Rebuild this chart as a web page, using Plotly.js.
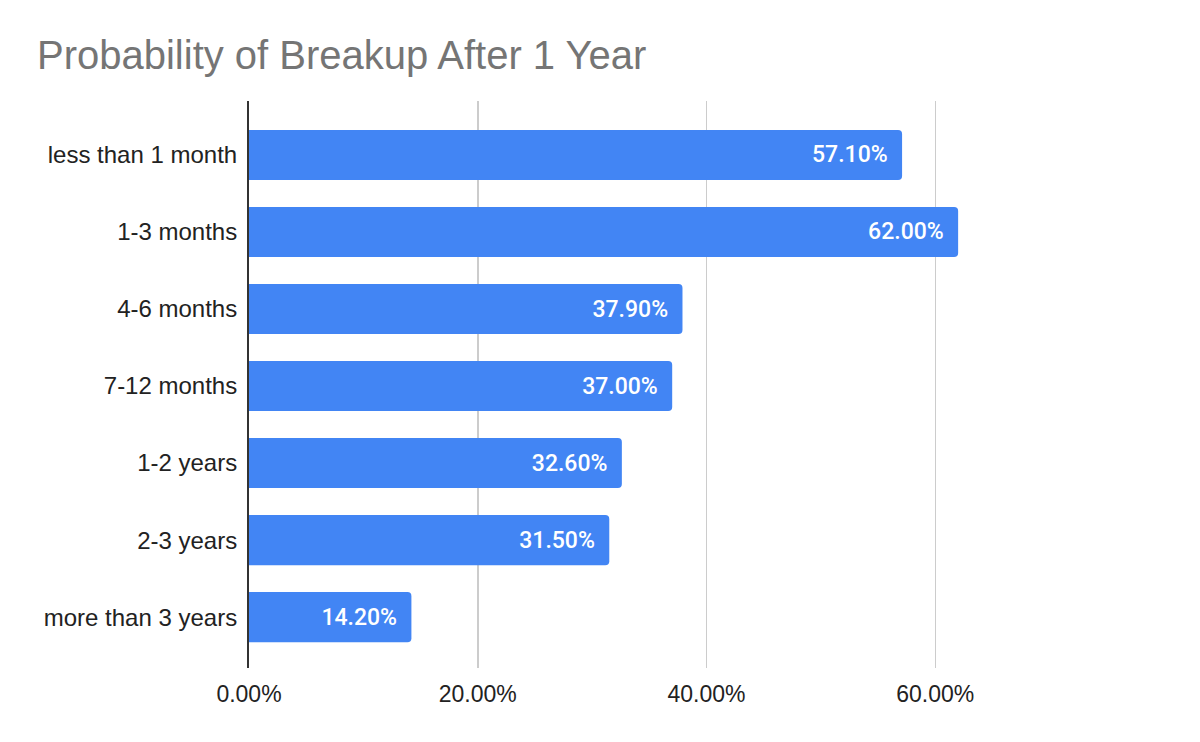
<!DOCTYPE html>
<html>
<head>
<meta charset="utf-8">
<script src="https://cdn.plot.ly/plotly-3.0.1.min.js"></script>
<style>html,body{margin:0;padding:0;background:#fff;}#chart{width:1200px;height:742px;}</style>
</head>
<body>
<div id="chart"></div>
<script>
const categories = ["less than 1 month", "1-3 months", "4-6 months", "7-12 months", "1-2 years", "2-3 years", "more than 3 years"];
const probabilities = [0.571, 0.62, 0.379, 0.37, 0.326, 0.315, 0.142];
const tickValues = [0, 0.2, 0.4, 0.6, 0.8];
const tickLabels = ["0.00%", "20.00%", "40.00%", "60.00%", ""];

const trace = {
  type: "bar",
  orientation: "h",
  x: probabilities,
  y: categories,
  marker: {color: "#4285F4", cornerradius: 4},
  texttemplate: "%{x:.2%}\u00a0\u2009",
  textposition: "inside",
  insidetextanchor: "end",
  textfont: {family: "Roboto, sans-serif", size: 23, weight: 500, color: "#ffffff"},
  hoverinfo: "none"
};

const layout = {
  width: 1200,
  height: 742,
  margin: {l: 249, r: 36, t: 101, b: 74},
  paper_bgcolor: "#ffffff",
  plot_bgcolor: "#ffffff",
  showlegend: false,
  bargap: 0.35,
  title: {
    text: "Probability of Breakup After 1 Year",
    font: {family: "Liberation Sans, Arial, sans-serif", size: 40, color: "#757575"},
    xref: "container", yref: "container",
    x: 37/1200, xanchor: "left",
    y: 1 - 55/742, yanchor: "middle"
  },
  xaxis: {
    range: [0, 0.8],
    tickvals: tickValues,
    ticktext: tickLabels,
    showgrid: true,
    gridcolor: "#cccccc",
    gridwidth: 1.5,
    zeroline: false,
    showline: false,
    ticks: "",
    ticklabelstandoff: 10,
    tickfont: {family: "Liberation Sans, Arial, sans-serif", size: 23, color: "#222222"}
  },
  yaxis: {
    type: "category",
    range: [6.66, -0.70],
    showgrid: false,
    zeroline: false,
    showline: true,
    linecolor: "#333333",
    linewidth: 2,
    ticks: "",
    ticklabelstandoff: 5,
    tickfont: {family: "Liberation Sans, Arial, sans-serif", size: 24, color: "#222222"}
  }
};

Plotly.newPlot("chart", [trace], layout, {displayModeBar: false, staticPlot: true});
</script>
</body>
</html>
